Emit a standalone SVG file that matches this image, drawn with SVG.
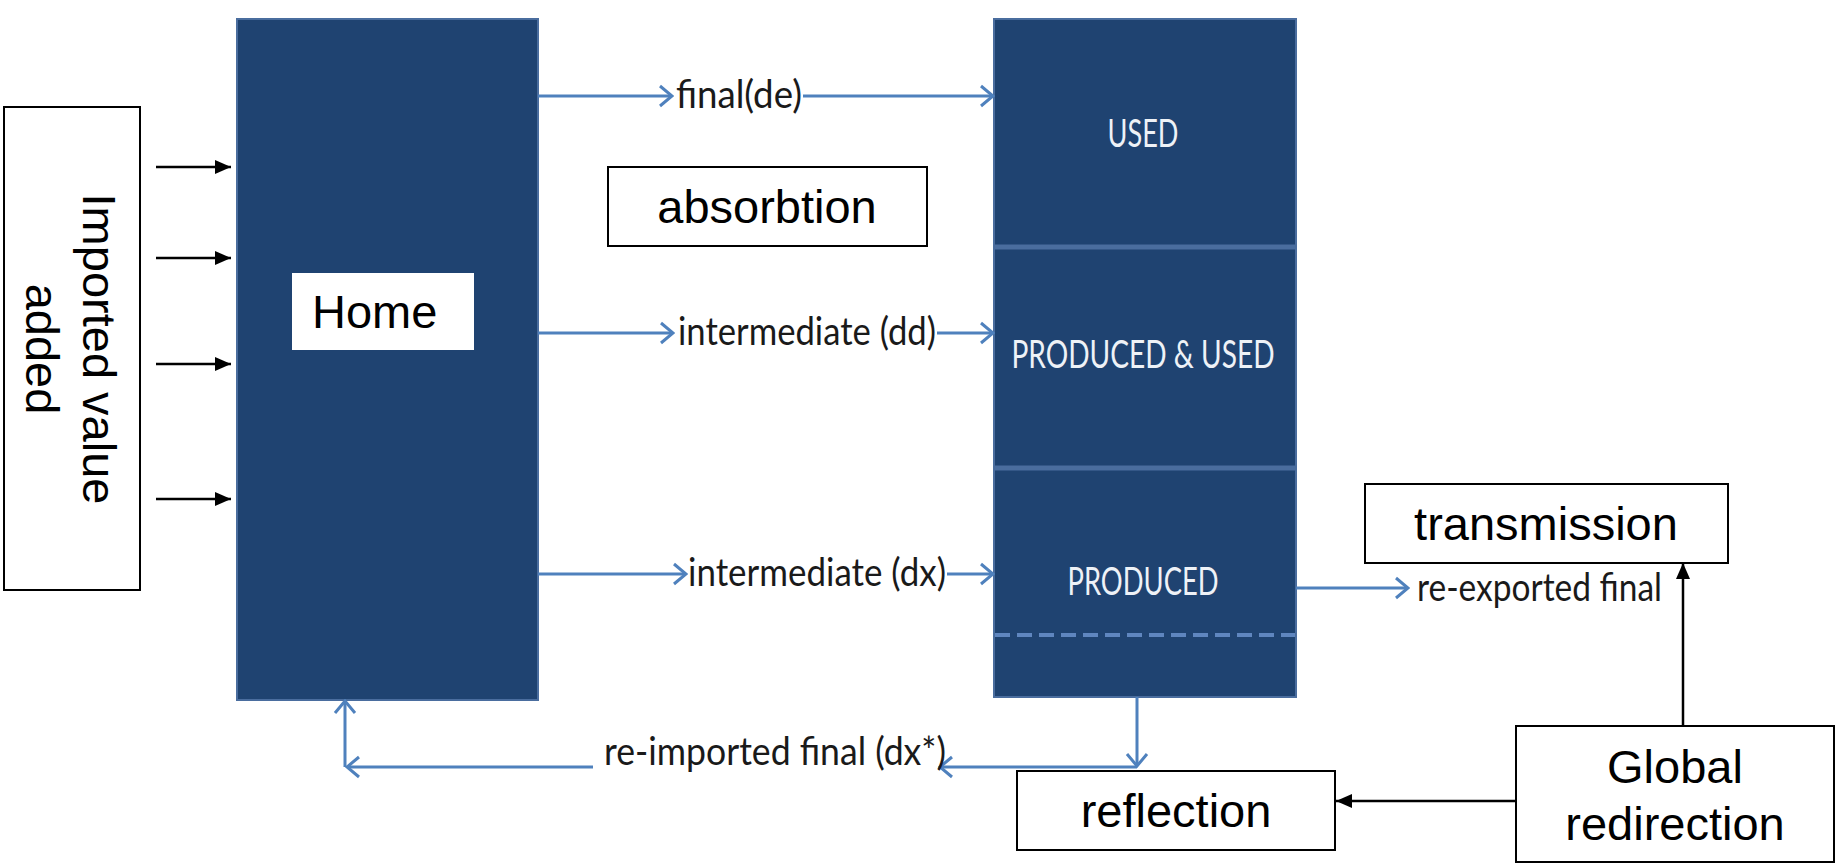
<svg xmlns="http://www.w3.org/2000/svg" width="1845" height="864" viewBox="0 0 1845 864">
<style>
.blk{fill:#1F4371;stroke:#4a6d9e;stroke-width:2}
.box{fill:#fff;stroke:#000;stroke-width:2}
.big{font-family:"Liberation Sans",Arial,sans-serif;font-size:47px;fill:#000}
.lbl{font-family:Lato,"Open Sans",sans-serif;font-size:39px;fill:#1a1a1a}
.wht{font-family:Lato,"Open Sans",sans-serif;font-size:38px;fill:#eef2f7;text-anchor:middle}
.blue{fill:none;stroke:#4F81BD;stroke-width:3}
.blk-line{fill:none;stroke:#000;stroke-width:2.5}
</style>
<defs>
<marker id="chev" markerUnits="userSpaceOnUse" viewBox="-14 -12 16 24" refX="0" refY="0" markerWidth="16" markerHeight="24" orient="auto">
<path d="M-12,-10 L0,0 L-12,10" fill="none" stroke="#4F81BD" stroke-width="3"/>
</marker>
<marker id="tri" markerUnits="userSpaceOnUse" viewBox="-16 -8 16 16" refX="0" refY="0" markerWidth="16" markerHeight="16" orient="auto">
<path d="M-16,-7 L0,0 L-16,7 Z" fill="#000"/>
</marker>
</defs>

<g id="imported">
<rect class="box" x="4" y="107" width="136" height="483"/>
<g transform="translate(83,349) rotate(90)">
<text class="big" text-anchor="middle" x="0" y="0">Imported value</text>
<text class="big" text-anchor="middle" x="0" y="57">added</text>
</g>
</g>

<g id="home">
<rect class="blk" x="237" y="19" width="301" height="681"/>
<rect x="292" y="273" width="182" height="77" fill="#fff"/>
<text class="big" x="312" y="328">Home</text>
</g>

<g id="country">
<rect class="blk" x="994" y="19" width="302" height="678"/>
<line x1="995" y1="247" x2="1295" y2="247" stroke="#4a6d9e" stroke-width="5"/>
<line x1="995" y1="468" x2="1295" y2="468" stroke="#4a6d9e" stroke-width="5"/>
<line x1="995" y1="635" x2="1295" y2="635" stroke="#5f86bf" stroke-width="4" stroke-dasharray="15 7"/>
<text class="wht" x="1143" y="147" textLength="71" lengthAdjust="spacingAndGlyphs">USED</text>
<text class="wht" x="1143" y="368" textLength="263" lengthAdjust="spacingAndGlyphs">PRODUCED &amp; USED</text>
<text class="wht" x="1143" y="595" textLength="151" lengthAdjust="spacingAndGlyphs">PRODUCED</text>
</g>

<g id="absorbtion">
<rect class="box" x="608" y="167" width="319" height="79"/>
<text class="big" x="767" y="223" text-anchor="middle">absorbtion</text>
</g>

<g id="transmission">
<rect class="box" x="1365" y="484" width="363" height="79"/>
<text class="big" x="1546" y="540" text-anchor="middle">transmission</text>
</g>

<g id="reflection">
<rect class="box" x="1017" y="771" width="318" height="79"/>
<text class="big" x="1176" y="827" text-anchor="middle">reflection</text>
</g>

<g id="global">
<rect class="box" x="1516" y="726" width="318" height="136"/>
<text class="big" x="1675" y="783" text-anchor="middle">Global</text>
<text class="big" x="1675" y="840" text-anchor="middle">redirection</text>
</g>

<g id="connectors">
<line class="blk-line" x1="156" y1="167" x2="231" y2="167" marker-end="url(#tri)"/>
<line class="blk-line" x1="156" y1="258" x2="231" y2="258" marker-end="url(#tri)"/>
<line class="blk-line" x1="156" y1="364" x2="231" y2="364" marker-end="url(#tri)"/>
<line class="blk-line" x1="156" y1="499" x2="231" y2="499" marker-end="url(#tri)"/>
<line class="blk-line" x1="1683" y1="726" x2="1683" y2="563" marker-end="url(#tri)"/>
<line class="blk-line" x1="1516" y1="801" x2="1336" y2="801" marker-end="url(#tri)"/>

<path class="blue" d="M538,96 H672" marker-end="url(#chev)"/>
<path class="blue" d="M803,96 H993" marker-end="url(#chev)"/>
<text class="lbl" x="676" y="108" textLength="126" lengthAdjust="spacingAndGlyphs">final(de)</text>

<path class="blue" d="M538,333 H673" marker-end="url(#chev)"/>
<path class="blue" d="M937,333 H993" marker-end="url(#chev)"/>
<text class="lbl" x="678" y="345" textLength="258" lengthAdjust="spacingAndGlyphs">intermediate (dd)</text>

<path class="blue" d="M538,574 H686" marker-end="url(#chev)"/>
<path class="blue" d="M947,574 H993" marker-end="url(#chev)"/>
<text class="lbl" x="688" y="586" textLength="258" lengthAdjust="spacingAndGlyphs">intermediate (dx)</text>

<path class="blue" d="M1296,588 H1408" marker-end="url(#chev)"/>
<text class="lbl" x="1417" y="601" textLength="245" lengthAdjust="spacingAndGlyphs">re-exported final</text>

<path class="blue" d="M1137,697 V766" marker-end="url(#chev)"/>
<path class="blue" d="M1137,767 H940" marker-end="url(#chev)"/>
<path class="blue" d="M593,767 H347" marker-end="url(#chev)"/>
<path class="blue" d="M345,767 V701" marker-end="url(#chev)"/>
<text class="lbl" x="604" y="765" textLength="342" lengthAdjust="spacingAndGlyphs">re-imported final (dx*)</text>
</g>
</svg>
